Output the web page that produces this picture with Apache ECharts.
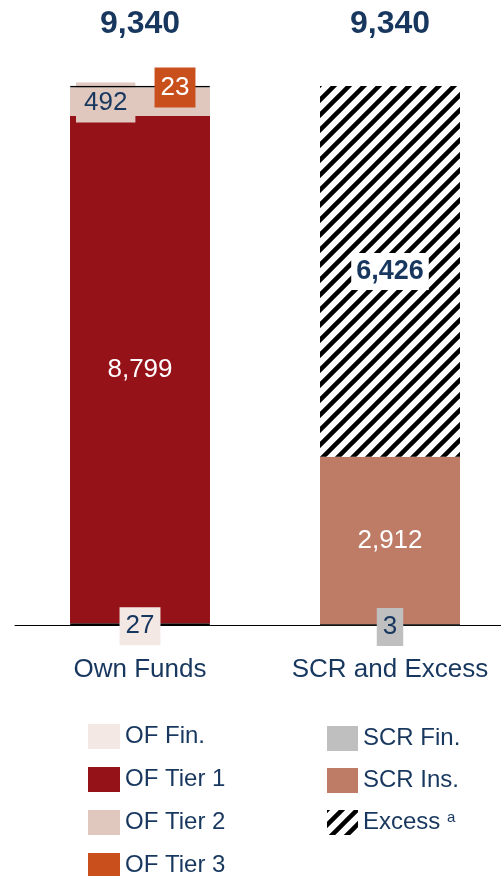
<!DOCTYPE html>
<html>
<head>
<meta charset="utf-8">
<script src="https://cdn.jsdelivr.net/npm/echarts@6/dist/echarts.min.js"></script>
<style>
html,body{margin:0;padding:0;background:#fff;}
#main{width:501px;height:876px;}
</style>
</head>
<body>
<div id="main"></div>
<script>
// data
var categories = ['Own Funds', 'SCR and Excess'];
var totals = [9340, 9340];
var ofFin = [27, '-'];
var ofTier1 = [8799, '-'];
var ofTier2 = [492, '-'];
var ofTier3 = [23, '-'];
var scrFin = ['-', 3];
var scrIns = ['-', 2912];
var excess = ['-', 6426];

var navy = '#17375E';
var font = 'Liberation Sans';

// hatch pattern for excess
var hatch = document.createElement('canvas');
hatch.width = 15; hatch.height = 15;
var ctx = hatch.getContext('2d');
ctx.fillStyle = '#fff';
ctx.fillRect(0, 0, 15, 15);
ctx.strokeStyle = '#000';
ctx.lineWidth = 4.5;
ctx.beginPath();
ctx.moveTo(-7.5, 7.5); ctx.lineTo(7.5, -7.5);
ctx.moveTo(0, 15); ctx.lineTo(15, 0);
ctx.moveTo(7.5, 22.5); ctx.lineTo(22.5, 7.5);
ctx.stroke();
var hatchColor = {image: hatch, repeat: 'repeat'};

function fmt(v) {
	return Number(v).toLocaleString('en-US');
}

var myChart = echarts.init(document.getElementById('main'));
var option = {
	animation: false,
	textStyle: {fontFamily: font},
	grid: {left: 15, top: 86, bottom: 251, width: 500, outerBoundsMode: 'none', containLabel: false},
	xAxis: {
		type: 'category',
		data: categories,
		axisLine: {lineStyle: {color: '#000', width: 1}},
		axisTick: {show: false},
		axisLabel: {color: navy, fontSize: 26, margin: 32, interval: 0, hideOverlap: false, fontFamily: font}
	},
	yAxis: {type: 'value', min: 0, max: 9340, show: false, splitLine: {show: false}},
	legend: [
		{
			orient: 'vertical', left: 88, top: 724, height: 200, padding: 0,
			itemWidth: 32, itemHeight: 25, itemGap: 18,
			icon: 'rect', itemStyle: {borderWidth: 0},
			textStyle: {color: navy, fontSize: 24, fontFamily: font},
			data: ['OF Fin.', 'OF Tier 1', 'OF Tier 2', 'OF Tier 3']
		},
		{
			orient: 'vertical', left: 327, top: 726, height: 200, padding: 0,
			itemWidth: 31, itemHeight: 25, itemGap: 17,
			icon: 'rect', itemStyle: {borderWidth: 0},
			textStyle: {color: navy, fontSize: 24, fontFamily: font,
				rich: {sup: {fontSize: 15, color: navy, verticalAlign: 'top', padding: [0, 0, 10, 0]}}},
			formatter: function (name) {
				return name === 'Excess' ? 'Excess {sup|a}' : name;
			},
			data: ['SCR Fin.', 'SCR Ins.', 'Excess']
		}
	],
	series: [
		{
			name: 'total', type: 'bar', barWidth: 140, barGap: '-100%', z: 1,
			data: totals, silent: true,
			itemStyle: {color: 'rgba(0,0,0,0)'},
			label: {show: true, position: 'top', distance: 46, color: navy, fontSize: 32, fontWeight: 'bold',
				formatter: function (p) { return fmt(p.value); }}
		},
		{
			name: 'OF Fin.', type: 'bar', stack: 's', barWidth: 140, z: 3, data: ofFin,
			itemStyle: {color: '#F4E8E4', borderColor: '#000', borderWidth: 1},
			label: {show: true, position: 'inside', offset: [0, 2], color: navy, fontSize: 26,
				backgroundColor: '#F4E8E4', padding: [7, 6, 5, 6],
				formatter: function (p) { return fmt(p.value); }}
		},
		{
			name: 'OF Tier 1', type: 'bar', stack: 's', barWidth: 140, z: 2, data: ofTier1,
			itemStyle: {color: '#961219'},
			label: {show: true, position: 'inside', color: '#fff', fontSize: 26,
				formatter: function (p) { return fmt(p.value); }}
		},
		{
			name: 'OF Tier 2', type: 'bar', stack: 's', barWidth: 140, z: 2, data: ofTier2,
			itemStyle: {color: '#E0C8BF'},
			label: {show: true, position: 'insideLeft', distance: 6, offset: [0, 1], color: navy, fontSize: 26,
				backgroundColor: '#E0C8BF', padding: [8, 8, 6, 8],
				formatter: function (p) { return fmt(p.value); }}
		},
		{
			name: 'OF Tier 3', type: 'bar', stack: 's', barWidth: 140, z: 3, data: ofTier3,
			itemStyle: {color: '#C9501C', borderColor: '#000', borderWidth: 1},
			label: {show: true, position: 'inside', offset: [35, 1], color: '#fff', fontSize: 26,
				backgroundColor: '#C9501C', padding: [8, 6, 6, 6],
				formatter: function (p) { return fmt(p.value); }}
		},
		{
			name: 'SCR Fin.', type: 'bar', stack: 's', barWidth: 140, z: 3, data: scrFin,
			itemStyle: {color: '#BFBFBF', borderColor: '#222', borderWidth: 1},
			label: {show: true, position: 'inside', offset: [0, 2], color: navy, fontSize: 26,
				backgroundColor: '#BFBFBF', padding: [7, 6, 5, 6],
				formatter: function (p) { return fmt(p.value); }}
		},
		{
			name: 'SCR Ins.', type: 'bar', stack: 's', barWidth: 140, z: 2, data: scrIns,
			itemStyle: {color: '#BE7C66'},
			label: {show: true, position: 'inside', color: '#fff', fontSize: 26,
				formatter: function (p) { return fmt(p.value); }}
		},
		{
			name: 'Excess', type: 'bar', stack: 's', barWidth: 140, z: 2, data: excess,
			itemStyle: {color: hatchColor},
			label: {show: true, position: 'inside', color: navy, fontSize: 27, fontWeight: 'bold',
				backgroundColor: '#fff', padding: [6, 5, 4, 5],
				formatter: function (p) { return fmt(p.value); }}
		}
	]
};
myChart.setOption(option);
</script>
</body>
</html>
